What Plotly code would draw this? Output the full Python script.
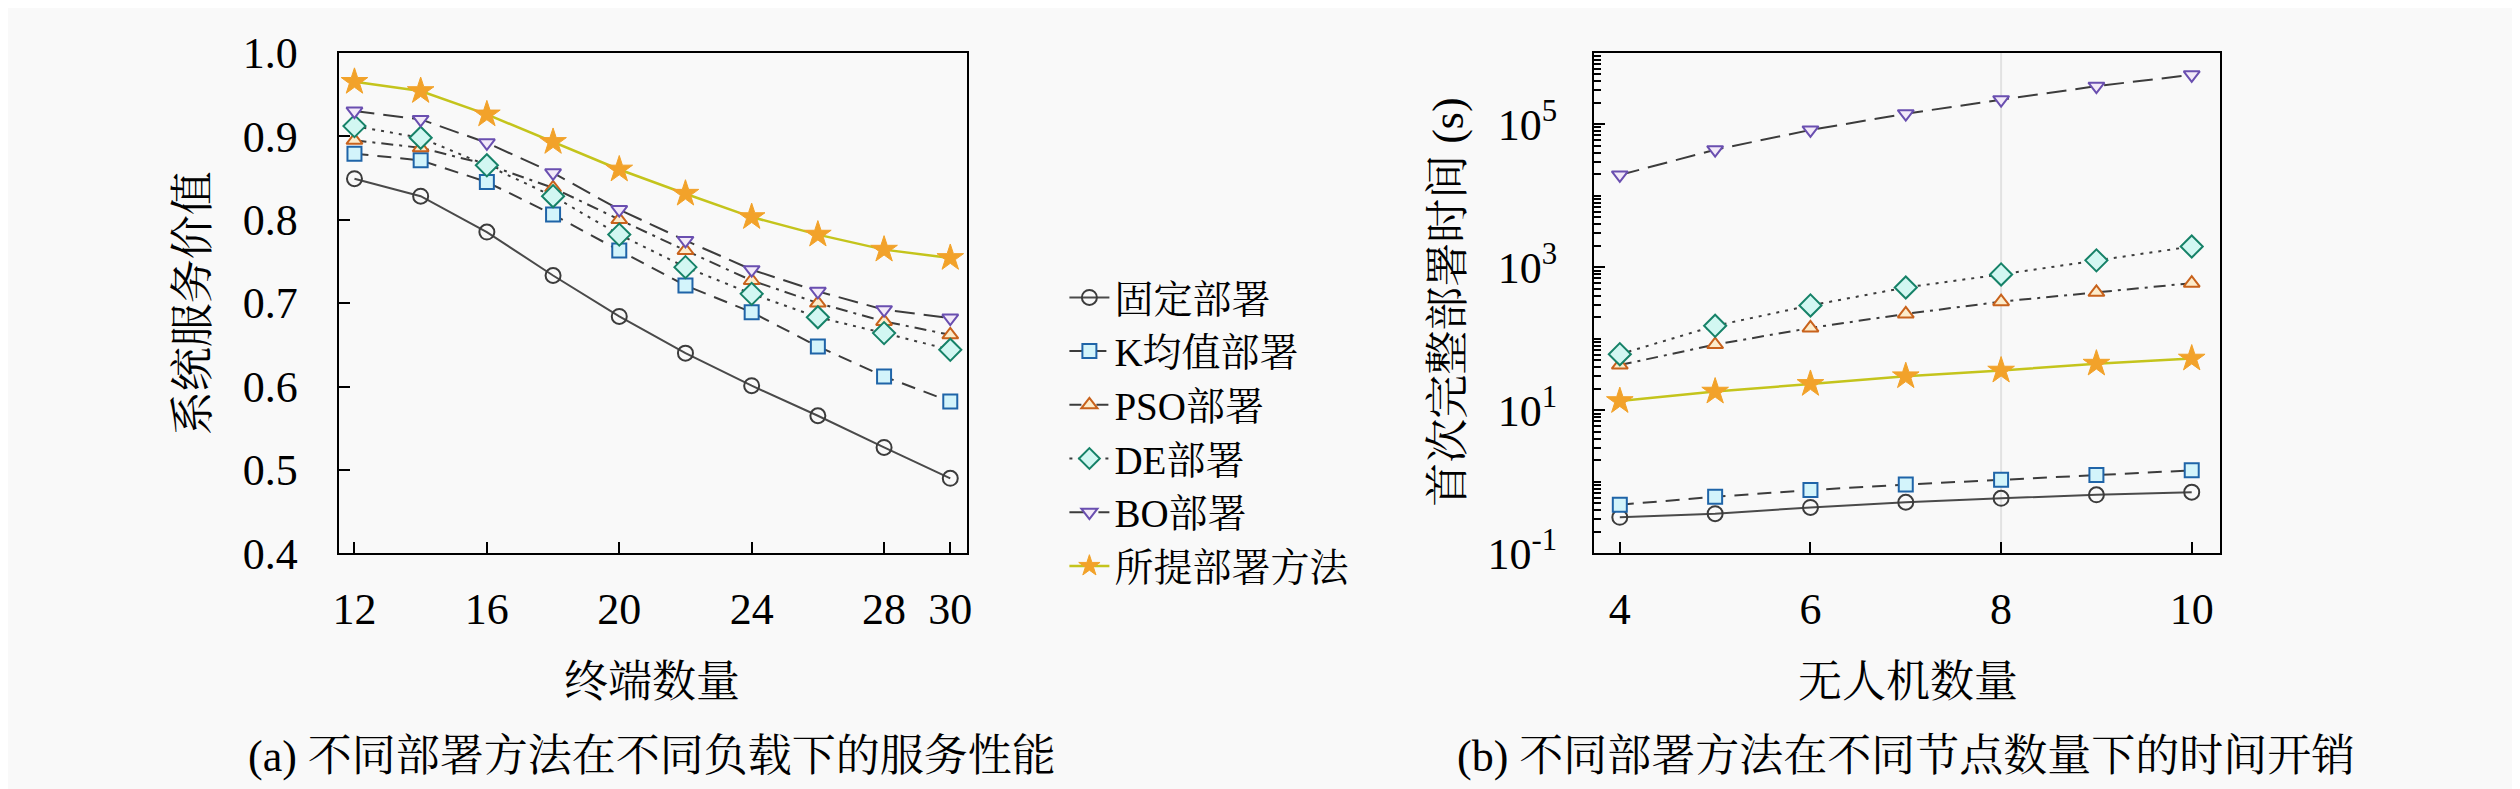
import plotly.graph_objects as go

# ---------------- data ----------------
series_names = ["固定部署", "K均值部署", "PSO部署", "DE部署", "BO部署", "所提部署方法"]

terminals = [12, 14, 16, 18, 20, 22, 24, 26, 28, 30]
val_fixed = [0.849, 0.828, 0.785, 0.733, 0.684, 0.640, 0.601, 0.565, 0.527, 0.490]
val_kmeans = [0.879, 0.871, 0.845, 0.806, 0.763, 0.721, 0.689, 0.648, 0.612, 0.582]
val_pso = [0.895, 0.886, 0.866, 0.838, 0.800, 0.763, 0.727, 0.700, 0.678, 0.662]
val_de = [0.912, 0.898, 0.865, 0.828, 0.782, 0.743, 0.711, 0.683, 0.664, 0.644]
val_bo = [0.930, 0.920, 0.892, 0.856, 0.812, 0.775, 0.740, 0.714, 0.692, 0.682]
val_prop = [0.965, 0.954, 0.926, 0.893, 0.860, 0.831, 0.803, 0.782, 0.764, 0.754]

uavs = [4, 5, 6, 7, 8, 9, 10]
t_fixed = [0.32, 0.36, 0.44, 0.52, 0.59, 0.66, 0.72]
t_kmeans = [0.48, 0.62, 0.77, 0.92, 1.07, 1.25, 1.45]
t_pso = [43, 83, 142, 223, 331, 447, 600]
t_de = [61, 152, 293, 522, 794, 1250, 1950]
t_bo = [1.95e4, 4.4e4, 8.3e4, 1.4e5, 2.2e5, 3.4e5, 4.9e5]
t_prop = [13.5, 18.3, 23.4, 30, 36, 45, 53]

left_xticks = [12, 16, 20, 24, 28, 30]
left_yticks = [0.4, 0.5, 0.6, 0.7, 0.8, 0.9, 1.0]
left_yticktext = ["0.4", "0.5", "0.6", "0.7", "0.8", "0.9", "1.0"]
right_xticks = [4, 6, 8, 10]
right_yticks = [0.1, 10, 1e3, 1e5]
right_yticktext = ["10<sup>-1</sup>", "10<sup>1</sup>", "10<sup>3</sup>", "10<sup>5</sup>"]

title_a = "(a) 不同部署方法在不同负载下的服务性能"
title_b = "(b) 不同部署方法在不同节点数量下的时间开销"
xlabel_a = "终端数量"
ylabel_a = "系统服务价值"
xlabel_b = "无人机数量"
ylabel_b = "首次完整部署时间 (s)"

# ---------------- styles ----------------
FONT = "Liberation Serif, Noto Serif CJK SC, Noto Sans CJK SC, serif"
BG = "#f9f9f9"
LINE_DARK = "#3c3c3c"
styles = [
    dict(line=dict(color="#4a4a4a", width=2, dash="solid"),
         marker=dict(symbol="circle", size=15, color="rgba(255,255,255,0)",
                     line=dict(color="#3c3c3c", width=2))),
    dict(line=dict(color=LINE_DARK, width=2, dash="14px,9px"),
         marker=dict(symbol="square", size=14, color="#d3f4fb",
                     line=dict(color="#1f64a8", width=2))),
    dict(line=dict(color=LINE_DARK, width=2, dash="12px,6px,3px,6px"),
         marker=dict(symbol="triangle-up", size=14, color="#fdeccb",
                     line=dict(color="#c8621c", width=2))),
    dict(line=dict(color=LINE_DARK, width=2, dash="3px,6px"),
         marker=dict(symbol="diamond", size=17, color="#d2f7f2",
                     line=dict(color="#168268", width=2))),
    dict(line=dict(color=LINE_DARK, width=2, dash="20px,9px"),
         marker=dict(symbol="triangle-down", size=14, color="#f3eaf9",
                     line=dict(color="#6a4fb0", width=2))),
    dict(line=dict(color="#c4c41c", width=2.5, dash="solid"),
         marker=dict(symbol="star", size=20, color="#f2a22a",
                     line=dict(color="#f2a22a", width=1))),
]

left_vals = [val_fixed, val_kmeans, val_pso, val_de, val_bo, val_prop]
right_vals = [t_fixed, t_kmeans, t_pso, t_de, t_bo, t_prop]

fig = go.Figure()
for name, vals, st in zip(series_names, left_vals, styles):
    fig.add_trace(go.Scatter(x=terminals, y=vals, name=name, mode="lines+markers",
                             line=st["line"], marker=st["marker"],
                             xaxis="x", yaxis="y", showlegend=True))
for name, vals, st in zip(series_names, right_vals, styles):
    fig.add_trace(go.Scatter(x=uavs, y=vals, name=name, mode="lines+markers",
                             line=st["line"], marker=st["marker"],
                             xaxis="x2", yaxis="y2", showlegend=False))

W, H = 2520, 789
def px_x(p):
    return p / W
def px_y(p):
    return 1 - p / H

ydom = [px_y(556), px_y(22)]
axis_common = dict(showgrid=False, zeroline=False, showline=True, linecolor="black",
                   linewidth=2, mirror=True, ticks="inside", ticklen=11, tickwidth=2,
                   tickcolor="black", ticklabeloverflow="allow",
                   tickfont=dict(family=FONT, size=44, color="black"))

fig.update_layout(
    width=W, height=H,
    margin=dict(l=0, r=0, t=0, b=0),
    paper_bgcolor=BG, plot_bgcolor=BG,
    font=dict(family=FONT, size=44, color="black"),
    xaxis=dict(domain=[px_x(326), px_x(957)], range=[11.52, 30.5],
               tickmode="array", tickvals=left_xticks, anchor="y",
               ticklabelstandoff=16, **axis_common),
    yaxis=dict(domain=ydom, range=[0.4, 1.0], tickmode="array",
               tickvals=left_yticks, ticktext=left_yticktext, anchor="x",
               ticklabelstandoff=30, **axis_common),
    xaxis2=dict(domain=[px_x(1587), px_x(2216)], range=[3.73, 10.3],
                tickmode="array", tickvals=right_xticks, anchor="y2",
                ticklabelstandoff=16, **axis_common),
    yaxis2=dict(domain=ydom, type="log", range=[-1, 6.0], tickmode="array",
                tickvals=right_yticks, ticktext=right_yticktext, anchor="x2",
                ticklabelstandoff=26,
                minor=dict(ticks="inside", ticklen=7, tickwidth=1.5, tickcolor="black",
                           dtick="D1", showgrid=False),
                **axis_common),
    legend=dict(x=px_x(1055), y=px_y(249), xanchor="left", yanchor="top",
                bgcolor="rgba(0,0,0,0)", font=dict(family=FONT, size=39, color="black"),
                tracegroupgap=0, itemwidth=40),
    showlegend=True,
)

# light vertical guide at x=8 in the right panel
fig.add_vline(x=8, xref="x2", yref="y2", line=dict(color="#e2e2e2", width=2), layer="below")

ann = [
    (px_x(180), px_y(289), ylabel_a, -90),
    (px_x(641), px_y(694), xlabel_a, 0),
    (px_x(641), px_y(773), title_a, 0),
    (px_x(1440), px_y(288), ylabel_b, -90),
    (px_x(1902), px_y(694), xlabel_b, 0),
    (px_x(1900), px_y(773), title_b, 0),
]
for x, y, t, ang in ann:
    fig.add_annotation(x=x, y=y, xref="paper", yref="paper", text=t, showarrow=False,
                       textangle=ang, xanchor="center", yanchor="middle",
                       font=dict(family=FONT, size=44, color="black"))

fig.write_html("out.html")
